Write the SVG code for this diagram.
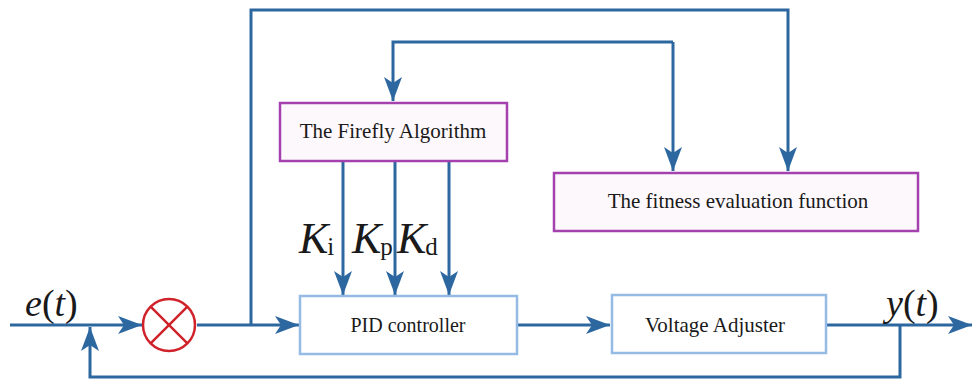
<svg xmlns="http://www.w3.org/2000/svg" width="974" height="380" viewBox="0 0 974 380">
<defs>
<style>
.ln{fill:none;stroke:#2c67a0;stroke-width:3}
.pbox{fill:#fdf8fc;stroke:#a441ae;stroke-width:2.5}
.bbox{fill:#ffffff;stroke:#95bbe4;stroke-width:2.5}
.lbl{font-family:"Liberation Serif","Times New Roman",serif;fill:#1a1a1a;text-anchor:middle}
.math{font-family:"Liberation Serif","Times New Roman",serif;fill:#1a1a1a}
.it{font-style:italic}
.sb{font-size:25px;font-style:normal}
</style>
<marker id="ah" markerUnits="userSpaceOnUse" markerWidth="26" markerHeight="20" refX="24" refY="9" orient="auto">
<path d="M0,0 L24,9 L0,18 L6,9 Z" fill="#2c67a0"/>
</marker>
</defs>
<rect width="974" height="380" fill="#ffffff"/>
<g id="connectors">
<path class="ln" d="M10,325 L142,325" marker-end="url(#ah)"/>
<path class="ln" d="M197,325 L299,325" marker-end="url(#ah)"/>
<path class="ln" d="M251,325 L251,10 L788,10 L788,171" marker-end="url(#ah)"/>
<path class="ln" d="M673,42 L393,42 L393,101" marker-end="url(#ah)"/>
<path class="ln" d="M673,42 L673,171" marker-end="url(#ah)"/>
<path class="ln" d="M343,162 L343,295" marker-end="url(#ah)"/>
<path class="ln" d="M395,162 L395,295" marker-end="url(#ah)"/>
<path class="ln" d="M449,162 L449,295" marker-end="url(#ah)"/>
<path class="ln" d="M517,325 L610,325" marker-end="url(#ah)"/>
<path class="ln" d="M826,325 L972,325" marker-end="url(#ah)"/>
<path class="ln" d="M900,325 L900,377 L90,377 L90,327" marker-end="url(#ah)"/>
</g>
<g id="sum">
<circle cx="169" cy="325" r="26" fill="#ffffff" stroke="#d0222a" stroke-width="2.5"/>
<path d="M150.6,306.6 L187.4,343.4 M187.4,306.6 L150.6,343.4" stroke="#d0222a" stroke-width="2.5"/>
</g>
<g id="firefly">
<rect class="pbox" x="280" y="103" width="227" height="58"/>
<text class="lbl" x="393" y="138" font-size="21">The Firefly Algorithm</text>
</g>
<g id="fitness">
<rect class="pbox" x="554" y="173" width="364" height="58"/>
<text class="lbl" x="738" y="208" font-size="21">The fitness evaluation function</text>
</g>
<g id="pid">
<rect class="bbox" x="300" y="296" width="217" height="58"/>
<text class="lbl" x="408" y="332" font-size="20">PID controller</text>
</g>
<g id="voltage">
<rect class="bbox" x="612" y="295" width="214" height="58"/>
<text class="lbl" x="715" y="332" font-size="21">Voltage Adjuster</text>
</g>
<g id="labels">
<text class="math" x="25" y="316" font-size="38"><tspan class="it">e</tspan>(<tspan class="it">t</tspan>)</text>
<text class="math" x="886" y="316" font-size="38"><tspan class="it">y</tspan>(<tspan class="it">t</tspan>)</text>
<text class="math" x="299" y="253" font-size="44"><tspan class="it">K</tspan><tspan class="sb" dx="-1" dy="2">i</tspan></text>
<text class="math" x="352" y="253" font-size="44"><tspan class="it">K</tspan><tspan class="sb" dx="-1" dy="2">p</tspan></text>
<text class="math" x="397" y="253" font-size="44"><tspan class="it">K</tspan><tspan class="sb" dx="-1" dy="2">d</tspan></text>
</g>
</svg>
